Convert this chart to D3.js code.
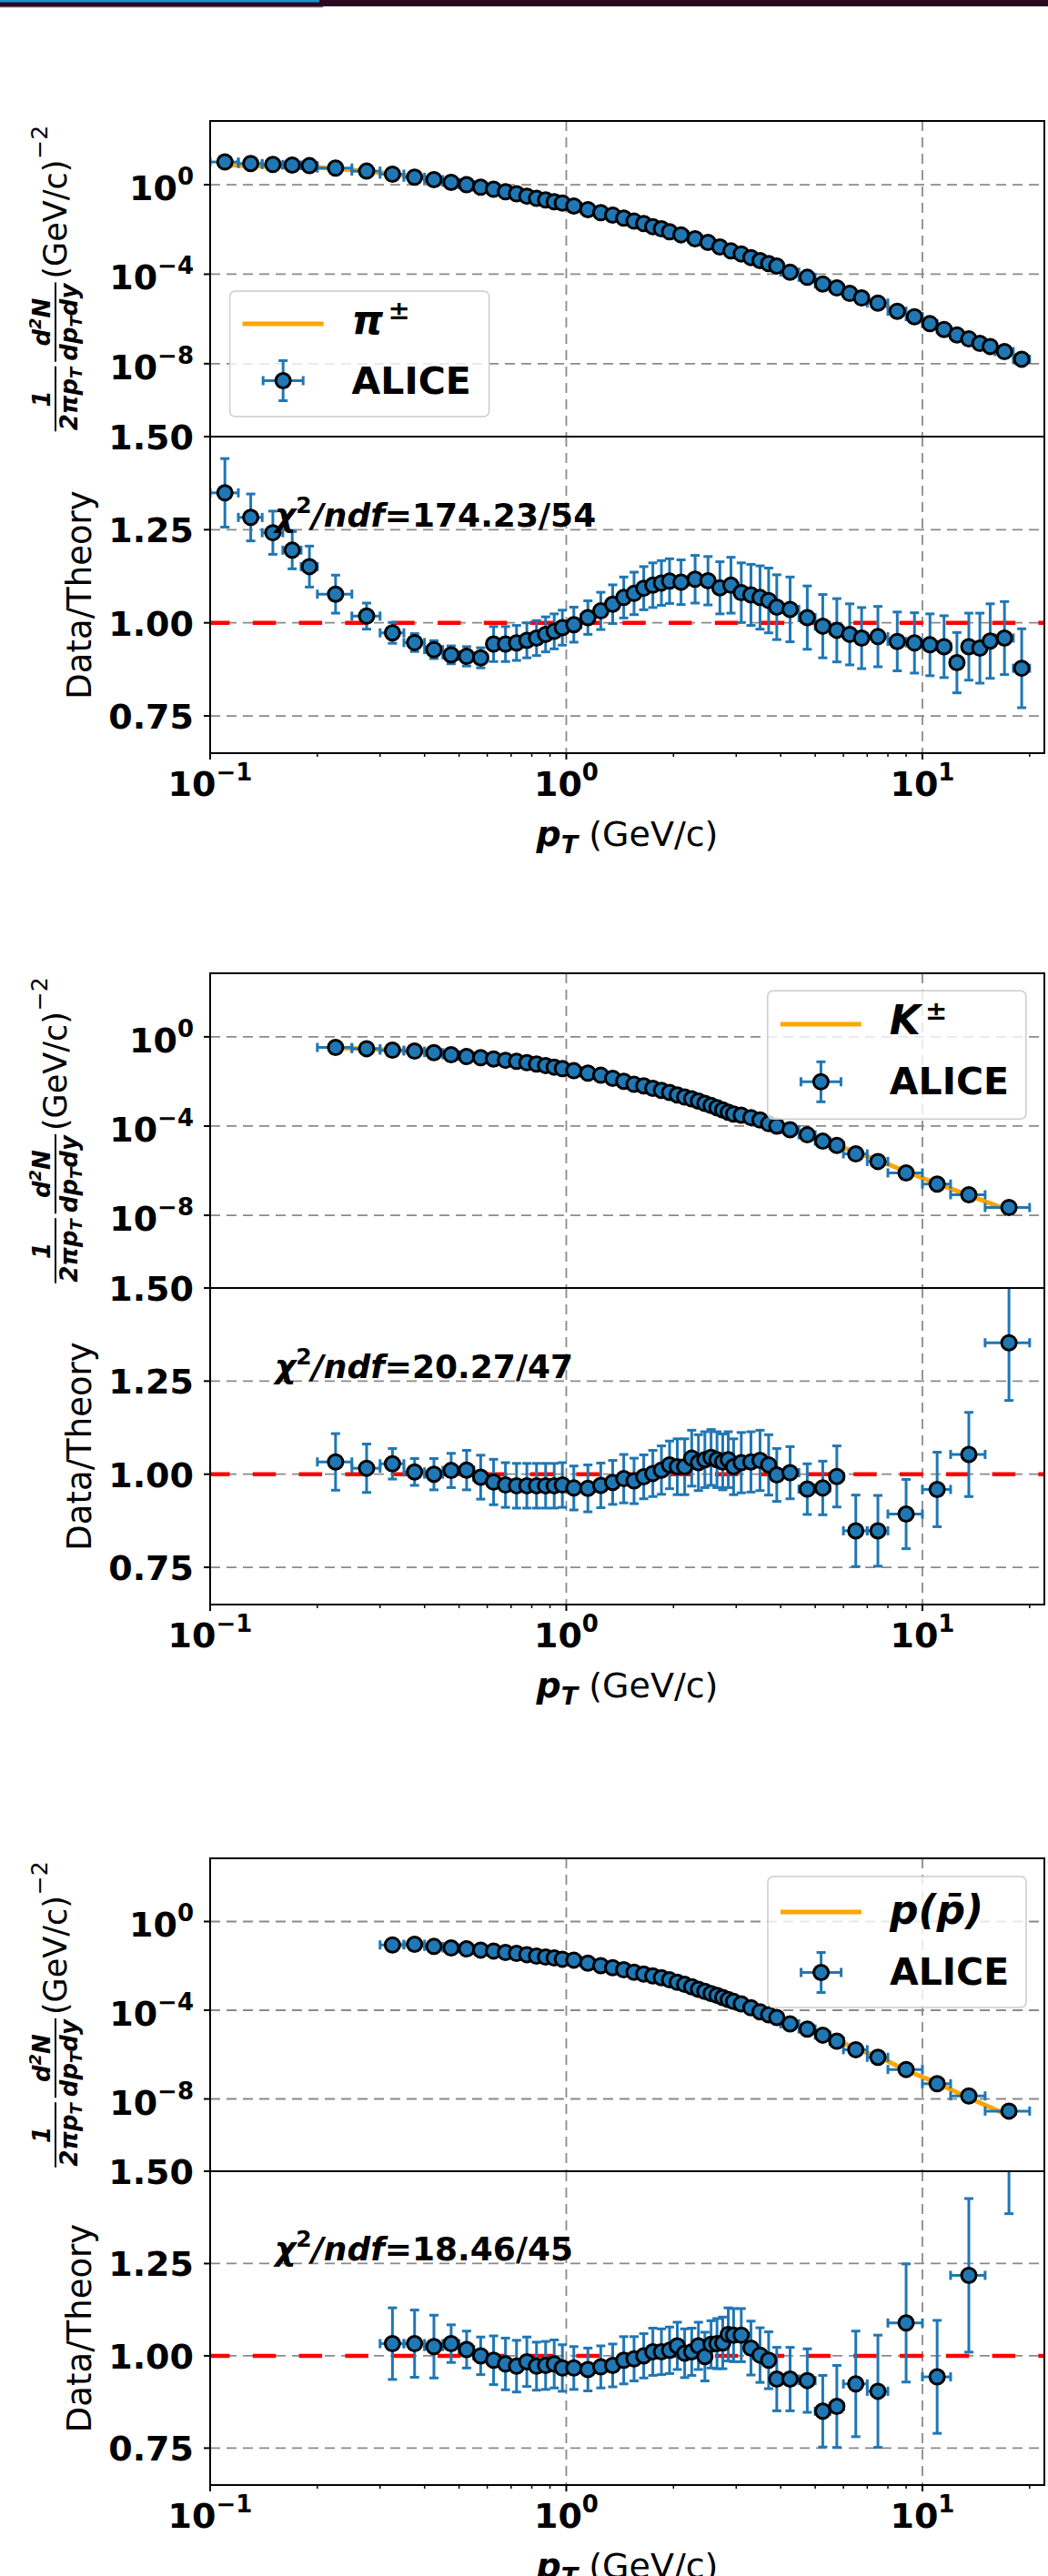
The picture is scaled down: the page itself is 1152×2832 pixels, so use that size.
<!DOCTYPE html>
<html><head><meta charset="utf-8">
<script src="https://cdn.jsdelivr.net/npm/d3@7"></script>
<style>body{margin:0;background:#fff}svg{display:block}</style>
</head><body>
<svg id="chart" width="1152" height="2832"></svg>
<script>
// ---------------- DATA ----------------
// Pions
const ptPion = [0.11,0.13,0.15,0.17,0.19,0.225,0.275,0.325,0.375,0.425,0.475,0.525,0.575,0.625,0.675,0.725,0.775,0.825,0.875,0.925,0.975,1.05,1.15,1.25,1.35,1.45,1.55,1.65,1.75,1.85,1.95,2.1,2.3,2.5,2.7,2.9,3.1,3.3,3.5,3.7,3.9,4.25,4.75,5.25,5.75,6.25,6.75,7.5,8.5,9.5,10.5,11.5,12.5,13.5,14.5,15.5,17,19];
const ptErrPion = [0.01,0.01,0.01,0.01,0.01,0.025,0.025,0.025,0.025,0.025,0.025,0.025,0.025,0.025,0.025,0.025,0.025,0.025,0.025,0.025,0.025,0.05,0.05,0.05,0.05,0.05,0.05,0.05,0.05,0.05,0.05,0.1,0.1,0.1,0.1,0.1,0.1,0.1,0.1,0.1,0.1,0.25,0.25,0.25,0.25,0.25,0.25,0.5,0.5,0.5,0.5,0.5,0.5,0.5,0.5,0.5,1,1];
const specPion = [10.4,8.87,8.07,7.59,7.13,5.55,4.07,2.97,2.17,1.69,1.28,1.0,0.776,0.627,0.486,0.392,0.309,0.245,0.209,0.173,0.153,0.112,0.0771,0.0564,0.044,0.0321,0.0236,0.0183,0.0134,0.0107,7.89e-3,5.78e-3,3.83e-3,2.64e-3,1.65e-3,1.10e-3,8.09e-4,5.56e-4,4.05e-4,2.97e-4,2.31e-4,1.24e-4,7.28e-5,3.67e-5,2.43e-5,1.39e-5,8.69e-6,5.14e-6,2.21e-6,1.26e-6,6.14e-7,3.40e-7,1.94e-7,1.28e-7,8.04e-8,5.89e-8,3.46e-8,1.59e-8];
const ratioPion = [1.349,1.283,1.242,1.195,1.151,1.077,1.018,0.973,0.947,0.928,0.914,0.910,0.906,0.943,0.943,0.946,0.953,0.959,0.969,0.977,0.987,0.995,1.014,1.032,1.050,1.068,1.079,1.093,1.101,1.107,1.112,1.109,1.117,1.113,1.094,1.101,1.081,1.075,1.068,1.060,1.042,1.036,1.014,0.991,0.980,0.969,0.959,0.963,0.950,0.946,0.941,0.936,0.893,0.936,0.932,0.951,0.959,0.878];
const ratioErrPion = [0.092,0.063,0.058,0.050,0.055,0.051,0.035,0.028,0.024,0.024,0.024,0.026,0.027,0.047,0.047,0.047,0.047,0.047,0.047,0.047,0.047,0.047,0.045,0.050,0.052,0.055,0.057,0.058,0.060,0.060,0.060,0.060,0.064,0.065,0.070,0.075,0.080,0.082,0.085,0.087,0.087,0.087,0.085,0.085,0.085,0.082,0.082,0.081,0.079,0.081,0.083,0.083,0.081,0.090,0.094,0.100,0.098,0.106];

// Kaons
const ptKaon = [0.225,0.275,0.325,0.375,0.425,0.475,0.525,0.575,0.625,0.675,0.725,0.775,0.825,0.875,0.925,0.975,1.05,1.15,1.25,1.35,1.45,1.55,1.65,1.75,1.85,1.95,2.05,2.15,2.25,2.35,2.45,2.55,2.65,2.75,2.85,2.95,3.1,3.3,3.5,3.7,3.9,4.25,4.75,5.25,5.75,6.5,7.5,9,11,13.5,17.5];
const ptErrKaon = [0.025,0.025,0.025,0.025,0.025,0.025,0.025,0.025,0.025,0.025,0.025,0.025,0.025,0.025,0.025,0.025,0.05,0.05,0.05,0.05,0.05,0.05,0.05,0.05,0.05,0.05,0.05,0.05,0.05,0.05,0.05,0.05,0.05,0.05,0.05,0.05,0.1,0.1,0.1,0.1,0.1,0.25,0.25,0.25,0.25,0.5,0.5,1,1,1.5,2.5];
const specKaon = [0.334,0.295,0.252,0.230,0.196,0.158,0.131,0.116,0.102,0.0891,0.0794,0.0692,0.0603,0.0519,0.0440,0.0377,0.0303,0.0236,0.0190,0.0139,0.0102,7.43e-3,6.35e-3,4.95e-3,3.98e-3,3.20e-3,2.49e-3,2.00e-3,1.66e-3,1.33e-3,1.04e-3,8.36e-4,6.71e-4,5.24e-4,4.21e-4,3.48e-4,3.08e-4,2.40e-4,1.87e-4,1.28e-4,1.0e-4,6.87e-5,4.05e-5,2.10e-5,1.36e-5,5.66e-6,2.59e-6,7.94e-7,2.51e-7,8.32e-8,2.24e-8];
const ratioKaon = [1.033,1.016,1.028,1.006,1.000,1.010,1.011,0.992,0.979,0.971,0.969,0.969,0.969,0.969,0.969,0.971,0.963,0.962,0.970,0.978,0.988,0.982,0.993,1.002,1.011,1.025,1.020,1.020,1.043,1.031,1.039,1.045,1.039,1.033,1.039,1.020,1.031,1.033,1.037,1.025,0.998,1.004,0.960,0.963,0.994,0.848,0.848,0.893,0.959,1.053,1.353];
const ratioErrKaon = [0.076,0.065,0.041,0.036,0.042,0.046,0.053,0.059,0.061,0.060,0.060,0.060,0.060,0.060,0.060,0.060,0.059,0.063,0.060,0.059,0.065,0.061,0.059,0.062,0.065,0.064,0.075,0.075,0.075,0.075,0.075,0.075,0.075,0.075,0.075,0.075,0.081,0.081,0.081,0.081,0.071,0.070,0.068,0.072,0.082,0.096,0.095,0.093,0.100,0.113,0.155];

// Protons
const ptProton = [0.325,0.375,0.425,0.475,0.525,0.575,0.625,0.675,0.725,0.775,0.825,0.875,0.925,0.975,1.05,1.15,1.25,1.35,1.45,1.55,1.65,1.75,1.85,1.95,2.05,2.15,2.25,2.35,2.45,2.55,2.65,2.75,2.85,2.95,3.1,3.3,3.5,3.7,3.9,4.25,4.75,5.25,5.75,6.5,7.5,9,11,13.5,17.5];
const ptErrProton = [0.025,0.025,0.025,0.025,0.025,0.025,0.025,0.025,0.025,0.025,0.025,0.025,0.025,0.025,0.05,0.05,0.05,0.05,0.05,0.05,0.05,0.05,0.05,0.05,0.05,0.05,0.05,0.05,0.05,0.05,0.05,0.05,0.05,0.05,0.1,0.1,0.1,0.1,0.1,0.25,0.25,0.25,0.25,0.5,0.5,1,1,1.5,2.5];
const specProton = [0.0881,0.0940,0.0753,0.0643,0.0585,0.0515,0.0469,0.0401,0.0365,0.0321,0.0274,0.0249,0.0227,0.0200,0.0182,0.0133,0.0103,8.28e-3,6.64e-3,5.15e-3,4.27e-3,3.53e-3,2.92e-3,2.34e-3,1.82e-3,1.46e-3,1.14e-3,8.81e-4,7.06e-4,5.66e-4,4.69e-4,3.76e-4,3.01e-4,2.49e-4,1.94e-4,1.29e-4,8.55e-5,6.24e-5,4.69e-5,2.42e-5,1.42e-5,7.53e-6,4.01e-6,1.66e-6,7.53e-7,2.13e-7,4.84e-8,1.37e-8,2.83e-9];
const ratioProton = [1.033,1.033,1.025,1.033,1.017,1.000,0.988,0.978,0.972,0.984,0.972,0.974,0.978,0.967,0.967,0.963,0.970,0.974,0.988,0.992,1.000,1.011,1.011,1.015,1.027,1.007,1.011,1.027,0.998,1.031,1.033,1.035,1.058,1.056,1.056,1.021,1.002,0.988,0.937,0.937,0.933,0.850,0.863,0.924,0.904,1.089,0.943,1.218,1.62];
const ratioErrProton = [0.097,0.091,0.085,0.051,0.050,0.051,0.066,0.070,0.070,0.067,0.065,0.065,0.065,0.063,0.058,0.058,0.057,0.058,0.064,0.060,0.060,0.064,0.062,0.063,0.064,0.066,0.064,0.064,0.066,0.064,0.068,0.070,0.072,0.072,0.072,0.073,0.074,0.077,0.086,0.086,0.086,0.097,0.111,0.143,0.152,0.160,0.153,0.208,0.235];

const particleLabels = ["pi", "K", "p"];
const chi2Values = ["=174.23/54", "=20.27/47", "=18.46/45"];
const legendData = "ALICE";

// ticks
const yTicksUpper = [1, 1e-4, 1e-8];
const yTicksUpperExp = [0, -4, -8];
const yTicksRatio = [0.75, 1.00, 1.25, 1.50];
const xTicksMajor = [0.1, 1, 10];
const xTicksMajorExp = [-1, 0, 1];
const xTicksMinor = [0.2,0.3,0.4,0.5,0.6,0.7,0.8,0.9,2,3,4,5,6,7,8,9,20];

// ---------------- LAYOUT / STYLE ----------------
const FONT = "DejaVu Sans";
const BLUE = "#1f77b4", ORANGE = "#ffa500";
const X0 = 231, X1 = 1148;
const layouts = [
  {top:133,  mid:480,  bot:828,  leg:{x:252.6, y:320,    w:285, h:138, line:36,  lab:47, mk:98.5, ali:112.7}},
  {top:1070, mid:1416, bot:1764, leg:{x:843.8, y:1089.3, w:284, h:141, line:36.7, lab:48, mk:100, ali:114}},
  {top:2043, mid:2387, bot:2732, leg:{x:844,   y:2063,   w:284, h:144, line:39,  lab:52, mk:105.5, ali:119}}
];
const datasets = [
  {pt:ptPion, ptErr:ptErrPion, spec:specPion, ratio:ratioPion, ratioErr:ratioErrPion},
  {pt:ptKaon, ptErr:ptErrKaon, spec:specKaon, ratio:ratioKaon, ratioErr:ratioErrKaon},
  {pt:ptProton, ptErr:ptErrProton, spec:specProton, ratio:ratioProton, ratioErr:ratioErrProton}
];
const legendParts = {
  pi: [{t:"\u03c0", it:true}, {t:"\u00b1", fs:29, dy:-16, dx:5, it:false}],
  K:  [{t:"K", it:true}, {t:"\u00b1", fs:29, dy:-16, dx:5, it:false}],
  p:  [{t:"p(p\u0304)", it:true}]
};

const svg = d3.select("#chart");
const defs = svg.append("defs");
svg.append("rect").attr("width",1152).attr("height",2832).attr("fill","#fff");
// header strip
svg.append("rect").attr("x",0).attr("y",0).attr("width",1152).attr("height",7).attr("fill","#2c0820");
svg.append("rect").attr("x",0).attr("y",0).attr("width",351).attr("height",2.5).attr("fill","#1b8fd6");
svg.append("rect").attr("x",0).attr("y",7).attr("width",355).attr("height",1.3).attr("fill","#7a6a75");

const x = d3.scaleLog().domain([0.1, 22]).range([X0, X1]);

function addParts(text, parts) {
  parts.forEach(p => {
    const t = text.append("tspan").text(p.t);
    if (p.fs) t.attr("font-size", p.fs);
    if (p.dy) t.attr("dy", p.dy);
    if (p.dx) t.attr("dx", p.dx);
    if (p.it === true) t.attr("font-style", "italic");
    if (p.it === false) t.attr("font-style", "normal");
    if (p.w) t.attr("font-weight", p.w);
  });
  return text;
}
function expLabel(exp) {
  return [{t:"10"}, {t:(exp < 0 ? "\u2212" + (-exp) : String(exp)), fs:26, dy:-17}];
}
function gridLine(g, x1, y1, x2, y2) {
  g.append("line").attr("x1",x1).attr("y1",y1).attr("x2",x2).attr("y2",y2)
    .attr("stroke","#8a8a8a").attr("stroke-width",1.8).attr("stroke-dasharray","11,7");
}
function errorBars(g, pts, yFn, yErr) {
  const eg = g.append("g").attr("stroke", BLUE).attr("stroke-width", 3).attr("fill","none");
  const cap = 5;
  eg.selectAll("line.xe").data(pts).join("line").attr("class","xe")
    .attr("x1", d => x(d.pt - d.xe)).attr("x2", d => x(d.pt + d.xe))
    .attr("y1", d => yFn(d)).attr("y2", d => yFn(d));
  eg.selectAll("line.xc1").data(pts).join("line").attr("class","xc1")
    .attr("x1", d => x(d.pt - d.xe)).attr("x2", d => x(d.pt - d.xe))
    .attr("y1", d => yFn(d) - cap).attr("y2", d => yFn(d) + cap);
  eg.selectAll("line.xc2").data(pts).join("line").attr("class","xc2")
    .attr("x1", d => x(d.pt + d.xe)).attr("x2", d => x(d.pt + d.xe))
    .attr("y1", d => yFn(d) - cap).attr("y2", d => yFn(d) + cap);
  if (yErr) {
    eg.selectAll("line.ye").data(pts).join("line").attr("class","ye")
      .attr("x1", d => x(d.pt)).attr("x2", d => x(d.pt))
      .attr("y1", d => yErr(d)[0]).attr("y2", d => yErr(d)[1]);
    eg.selectAll("line.yc1").data(pts).join("line").attr("class","yc1")
      .attr("x1", d => x(d.pt) - cap).attr("x2", d => x(d.pt) + cap)
      .attr("y1", d => yErr(d)[0]).attr("y2", d => yErr(d)[0]);
    eg.selectAll("line.yc2").data(pts).join("line").attr("class","yc2")
      .attr("x1", d => x(d.pt) - cap).attr("x2", d => x(d.pt) + cap)
      .attr("y1", d => yErr(d)[1]).attr("y2", d => yErr(d)[1]);
  }
}
function markers(g, pts, yFn) {
  g.append("g").selectAll("circle").data(pts).join("circle")
    .attr("cx", d => x(d.pt)).attr("cy", d => yFn(d)).attr("r", 8)
    .attr("fill", BLUE).attr("stroke", "#000").attr("stroke-width", 3);
}

function upperYLabel(cx, cy) {
  const g = svg.append("g").attr("transform", `translate(${cx},${cy}) rotate(-90)`);
  const inner = g.append("g");
  const fsF = 26;
  let pos = 0;
  function frac(numParts, denParts) {
    const num = addParts(inner.append("text").attr("font-family",FONT).attr("font-weight","bold")
      .attr("font-style","italic").attr("font-size",fsF).attr("y",-6).attr("text-anchor","middle"), numParts);
    const den = addParts(inner.append("text").attr("font-family",FONT).attr("font-weight","bold")
      .attr("font-style","italic").attr("font-size",fsF).attr("y",24).attr("text-anchor","middle"), denParts);
    const w = Math.max(num.node().getComputedTextLength(), den.node().getComputedTextLength()) + 4;
    num.attr("x", pos + w/2); den.attr("x", pos + w/2);
    inner.append("line").attr("x1", pos + 1).attr("x2", pos + w - 1).attr("y1", 0).attr("y2", 0)
      .attr("stroke","#000").attr("stroke-width",2);
    pos += w + 3;
  }
  frac([{t:"1"}], [{t:"2\u03c0p"}, {t:"T", fs:18, dy:5}]);
  frac([{t:"d"}, {t:"2", fs:18, dy:-10}, {t:"N", dy:10}], [{t:"dp"}, {t:"T", fs:18, dy:5}, {t:"dy", dy:-5}]);
  const u = inner.append("text").attr("font-family",FONT).attr("font-size",35).attr("x",pos).attr("y",12).text("(GeV/c)");
  pos += u.node().getComputedTextLength() + 1;
  const s = inner.append("text").attr("font-family",FONT).attr("font-size",25).attr("x",pos).attr("y",-9).text("\u22122");
  pos += s.node().getComputedTextLength();
  inner.attr("transform", `translate(${-pos/2},0)`);
}

function drawPanel(L, D, idx) {
  const yU = d3.scaleLog().domain([Math.pow(10,-11.26), Math.pow(10,2.85)]).range([L.mid, L.top]);
  const yR = d3.scaleLinear().domain([0.65, 1.5]).range([L.bot, L.mid]);
  const pts = D.pt.map((p,i) => ({pt:p, xe:D.ptErr[i], s:D.spec[i], r:D.ratio[i], re:D.ratioErr[i], th:D.spec[i]/D.ratio[i]}));

  defs.append("clipPath").attr("id","cu"+idx).append("rect").attr("x",X0).attr("y",L.top).attr("width",X1-X0).attr("height",L.mid-L.top);
  defs.append("clipPath").attr("id","cr"+idx).append("rect").attr("x",X0).attr("y",L.mid).attr("width",X1-X0).attr("height",L.bot-L.mid);

  // ---------- upper spectrum panel ----------
  const gU = svg.append("g").attr("clip-path", `url(#cu${idx})`);
  xTicksMajor.forEach(v => gridLine(gU, x(v), L.top, x(v), L.mid));
  yTicksUpper.forEach(v => gridLine(gU, X0, yU(v), X1, yU(v)));
  gU.append("path").datum(pts).attr("fill","none").attr("stroke",ORANGE).attr("stroke-width",5)
    .attr("d", d3.line().x(d => x(d.pt)).y(d => yU(d.th)));
  errorBars(gU, pts, d => yU(d.s), null);
  markers(gU, pts, d => yU(d.s));
  svg.append("rect").attr("x",X0).attr("y",L.top).attr("width",X1-X0).attr("height",L.mid-L.top)
    .attr("fill","none").attr("stroke","#000").attr("stroke-width",2);
  yTicksUpper.forEach((v,i) => {
    svg.append("line").attr("x1",X0-7).attr("x2",X0).attr("y1",yU(v)).attr("y2",yU(v)).attr("stroke","#000").attr("stroke-width",2);
    addParts(svg.append("text").attr("font-family",FONT).attr("font-weight","bold").attr("font-size",38)
      .attr("text-anchor","end").attr("x",213).attr("y",yU(v)+17), expLabel(yTicksUpperExp[i]));
  });
  upperYLabel(61, (L.top + L.mid)/2);

  // legend
  const lg = L.leg;
  const gl = svg.append("g");
  gl.append("rect").attr("x",lg.x).attr("y",lg.y).attr("width",lg.w).attr("height",lg.h).attr("rx",6)
    .attr("fill","#fff").attr("fill-opacity",0.8).attr("stroke","#cccccc").attr("stroke-width",1.5);
  gl.append("line").attr("x1",lg.x+14).attr("x2",lg.x+103).attr("y1",lg.y+lg.line).attr("y2",lg.y+lg.line)
    .attr("stroke",ORANGE).attr("stroke-width",5);
  addParts(gl.append("text").attr("font-family",FONT).attr("font-weight","bold").attr("font-size",44)
    .attr("x",lg.x+134).attr("y",lg.y+lg.lab), legendParts[particleLabels[idx]]);
  const mx = lg.x + 58.6, my = lg.y + lg.mk;
  const le = gl.append("g").attr("stroke",BLUE).attr("stroke-width",3);
  le.append("line").attr("x1",mx-22).attr("x2",mx+22).attr("y1",my).attr("y2",my);
  le.append("line").attr("x1",mx).attr("x2",mx).attr("y1",my-22).attr("y2",my+22);
  [[-22,0,1],[22,0,1],[0,-22,0],[0,22,0]].forEach(c => {
    if (c[2]) le.append("line").attr("x1",mx+c[0]).attr("x2",mx+c[0]).attr("y1",my-5).attr("y2",my+5);
    else le.append("line").attr("x1",mx-5).attr("x2",mx+5).attr("y1",my+c[1]).attr("y2",my+c[1]);
  });
  gl.append("circle").attr("cx",mx).attr("cy",my).attr("r",8).attr("fill",BLUE).attr("stroke","#000").attr("stroke-width",3);
  gl.append("text").attr("font-family",FONT).attr("font-weight","bold").attr("font-size",41)
    .attr("x",lg.x+134).attr("y",lg.y+lg.ali).text(legendData);

  // ---------- ratio panel ----------
  const gR = svg.append("g").attr("clip-path", `url(#cr${idx})`);
  xTicksMajor.forEach(v => gridLine(gR, x(v), L.mid, x(v), L.bot));
  yTicksRatio.forEach(v => gridLine(gR, X0, yR(v), X1, yR(v)));
  gR.append("line").attr("x1",X0).attr("x2",X1).attr("y1",yR(1)).attr("y2",yR(1))
    .attr("stroke","#ff0000").attr("stroke-width",4.5).attr("stroke-dasharray","25.5,25.3").attr("stroke-dashoffset",4);
  errorBars(gR, pts, d => yR(d.r), d => [yR(d.r + d.re), yR(d.r - d.re)]);
  markers(gR, pts, d => yR(d.r));
  svg.append("rect").attr("x",X0).attr("y",L.mid).attr("width",X1-X0).attr("height",L.bot-L.mid)
    .attr("fill","none").attr("stroke","#000").attr("stroke-width",2);
  yTicksRatio.forEach(v => {
    svg.append("line").attr("x1",X0-7).attr("x2",X0).attr("y1",yR(v)).attr("y2",yR(v)).attr("stroke","#000").attr("stroke-width",2);
    svg.append("text").attr("font-family",FONT).attr("font-weight","bold").attr("font-size",38)
      .attr("text-anchor","end").attr("x",213).attr("y",yR(v)+14).text(d3.format(".2f")(v));
  });
  xTicksMajor.forEach((v,i) => {
    svg.append("line").attr("x1",x(v)).attr("x2",x(v)).attr("y1",L.bot).attr("y2",L.bot+7).attr("stroke","#000").attr("stroke-width",2);
    addParts(svg.append("text").attr("font-family",FONT).attr("font-weight","bold").attr("font-size",38)
      .attr("text-anchor","middle").attr("x",x(v)).attr("y",L.bot+47), expLabel(xTicksMajorExp[i]));
  });
  xTicksMinor.forEach(v => {
    svg.append("line").attr("x1",x(v)).attr("x2",x(v)).attr("y1",L.bot).attr("y2",L.bot+4).attr("stroke","#000").attr("stroke-width",1.5);
  });
  // chi2 annotation
  addParts(svg.append("text").attr("font-family",FONT).attr("font-weight","bold").attr("font-size",36)
    .attr("x",302).attr("y",yR(1.25)-3),
    [{t:"\u03c7", it:true}, {t:"2", fs:25, dy:-15, it:false}, {t:"/ndf", dy:15, it:true}, {t:chi2Values[idx], it:false}]);
  // axis labels
  svg.append("text").attr("font-family",FONT).attr("font-size",37).attr("text-anchor","middle")
    .attr("transform", `translate(100,${(L.mid+L.bot)/2}) rotate(-90)`).text("Data/Theory");
  addParts(svg.append("text").attr("font-family",FONT).attr("font-size",38).attr("text-anchor","middle")
    .attr("x",(X0+X1)/2).attr("y",L.bot+102),
    [{t:"p", it:true, w:"bold"}, {t:"T", fs:27, dy:8, it:true, w:"bold"}, {t:" (GeV/c)", dy:-8, it:false, w:"normal"}]);
}

layouts.forEach((L,i) => drawPanel(L, datasets[i], i));
</script>
</body></html>
